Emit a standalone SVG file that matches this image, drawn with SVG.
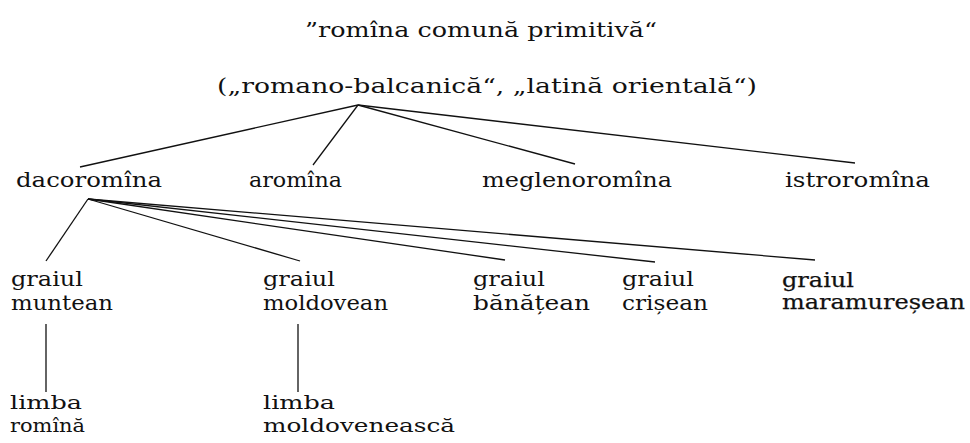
<svg xmlns="http://www.w3.org/2000/svg" width="970" height="443" viewBox="0 0 970 443">
<style>
text{font-family:"DejaVu Serif","Liberation Serif",serif;font-size:20px;fill:#111}
.h{stroke:#111;stroke-width:0.25}
.s{font-size:18px}
.c line{stroke:#111;stroke-width:1.3;fill:none}
</style>
<rect width="970" height="443" fill="#fff"/>
<g id="title"><text x="305" y="37" textLength="352" lengthAdjust="spacingAndGlyphs">”romîna comună primitivă“</text></g>
<g id="root"><text x="217" y="93" textLength="540" lengthAdjust="spacingAndGlyphs">(„romano-balcanică“, „latină orientală“)</text></g>
<g id="dacoromina"><text x="16" y="187" textLength="146" lengthAdjust="spacingAndGlyphs">dacoromîna</text></g>
<g id="aromina"><text x="249" y="187" textLength="93" lengthAdjust="spacingAndGlyphs">aromîna</text></g>
<g id="meglenoromina"><text x="482" y="187" textLength="190" lengthAdjust="spacingAndGlyphs">meglenoromîna</text></g>
<g id="istroromina"><text x="785" y="187" textLength="145" lengthAdjust="spacingAndGlyphs">istroromîna</text></g>
<g id="muntean"><text x="11" y="286" textLength="72" lengthAdjust="spacingAndGlyphs">graiul</text><text x="11" y="310" textLength="102" lengthAdjust="spacingAndGlyphs">muntean</text></g>
<g id="moldovean"><text x="263" y="286" textLength="72" lengthAdjust="spacingAndGlyphs">graiul</text><text x="263" y="310" textLength="125" lengthAdjust="spacingAndGlyphs">moldovean</text></g>
<g id="banatean"><text x="473" y="286" textLength="72" lengthAdjust="spacingAndGlyphs">graiul</text><text x="473" y="310" textLength="117" lengthAdjust="spacingAndGlyphs">bănățean</text></g>
<g id="crisean"><text x="622" y="286" textLength="72" lengthAdjust="spacingAndGlyphs">graiul</text><text x="622" y="310" textLength="86" lengthAdjust="spacingAndGlyphs">crișean</text></g>
<g id="maramuresean"><text class="h" x="782" y="287" textLength="72" lengthAdjust="spacingAndGlyphs">graiul</text><text class="h" x="782" y="309" textLength="183" lengthAdjust="spacingAndGlyphs">maramureșean</text></g>
<g id="limba-romina"><text class="s" x="10" y="409" textLength="72" lengthAdjust="spacingAndGlyphs">limba</text><text class="s" x="10" y="432" textLength="75" lengthAdjust="spacingAndGlyphs">romînă</text></g>
<g id="limba-moldoveneasca"><text class="s" x="263" y="409" textLength="72" lengthAdjust="spacingAndGlyphs">limba</text><text class="s" x="263" y="432" textLength="192" lengthAdjust="spacingAndGlyphs">moldovenească</text></g>
<g id="connectors" class="c">
<line x1="358" y1="105" x2="80" y2="167"/>
<line x1="358" y1="105" x2="313" y2="165"/>
<line x1="358" y1="105" x2="575" y2="164"/>
<line x1="358" y1="105" x2="855" y2="163"/>
<line x1="88" y1="199" x2="46" y2="261"/>
<line x1="88" y1="199" x2="300" y2="261"/>
<line x1="88" y1="199" x2="505" y2="260"/>
<line x1="88" y1="199" x2="655" y2="262"/>
<line x1="88" y1="199" x2="815" y2="260"/>
<line x1="46" y1="324" x2="46" y2="392"/>
<line x1="298" y1="324" x2="298" y2="392"/>
</g>
</svg>
